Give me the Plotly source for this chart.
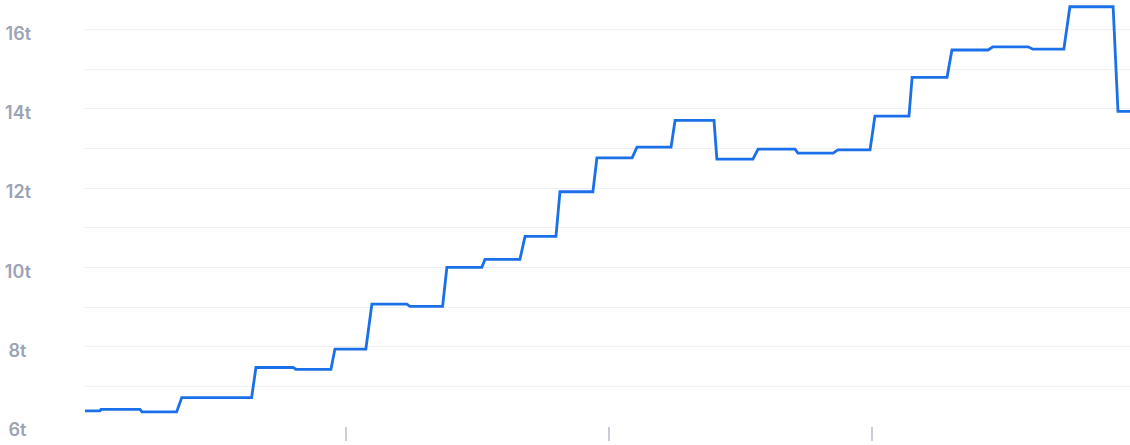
import pandas as pd
import plotly.graph_objects as go

# Difficulty levels (trillions), with start / end of each level in days since 2019-04-01
level_start_day = [0, 5.6, 19.9, 33.8, 59.7, 73.7, 87.3, 100.2, 113.5, 126.4, 139.7, 153.7, 165.9,
                   178.8, 192.8, 206.1, 220.7, 235.1, 249.0, 263.0, 275.9, 288.9, 302.8, 317.1,
                   331.1, 344.0, 360.8]
level_end_day = [5.2, 19.2, 32.0, 58.2, 72.7, 85.9, 98.1, 112.4, 124.9, 138.6, 151.9, 164.5, 177.4,
                 191.1, 204.7, 219.7, 233.3, 248.0, 261.3, 274.2, 287.8, 301.1, 315.4, 329.4,
                 341.9, 359.1, 365.0]
level_value = [6.38, 6.42, 6.355, 6.715, 7.475, 7.43, 7.94, 9.075, 9.017, 10.00, 10.20, 10.78, 11.906,
               12.76, 13.03, 13.706, 12.73, 12.98, 12.88, 12.96, 13.81, 14.79, 15.48, 15.56,
               15.50, 16.57, 13.93]

start_date = pd.Timestamp("2019-04-01")
x_range = ["2019-04-01", "2020-03-31"]
x_ticks = ["2019-07-01", "2019-10-01", "2020-01-01"]
y_ticks = [6, 7, 8, 9, 10, 11, 12, 13, 14, 15, 16]
y_labels = ["6t\u00a0", "", "8t\u00a0", "", "10t", "", "12t", "", "14t", "", "16t"]

xs, ys = [], []
for s, e, v in zip(level_start_day, level_end_day, level_value):
    xs.append(start_date + pd.Timedelta(days=s))
    xs.append(start_date + pd.Timedelta(days=e))
    ys.extend([v, v])

fig = go.Figure()
fig.add_trace(go.Scatter(
    x=xs, y=ys, mode="lines",
    line=dict(color="#1a70e8", width=2.8),
    hoverinfo="skip", showlegend=False, cliponaxis=False,
))

fig.update_layout(
    width=1130, height=445,
    margin=dict(l=85, r=0, t=0, b=19, autoexpand=False),
    paper_bgcolor="white", plot_bgcolor="white",
    font=dict(family="Inter", size=18, color="#9ba3b5"),
)
fig.update_xaxes(
    type="date", range=x_range, automargin=False,
    tickmode="array", tickvals=x_ticks, showticklabels=False,
    ticks="outside", ticklen=14, tickwidth=2, tickcolor="#c9ccd9",
    showgrid=False, zeroline=False, showline=False,
)
fig.update_yaxes(
    range=[6, 16.74], automargin=False,
    tickmode="array", tickvals=y_ticks, ticktext=y_labels,
    showgrid=True, gridcolor="#eef0f5", gridwidth=1,
    zeroline=False, showline=False, ticks="",
    ticklabelstandoff=53, ticklabelshift=4,
    tickfont=dict(family="Inter", size=18, color="#9ba3b5", weight=600),
)

fig.write_html("out.html", config={"displayModeBar": False},
               post_script="document.body.style.margin='0';")
